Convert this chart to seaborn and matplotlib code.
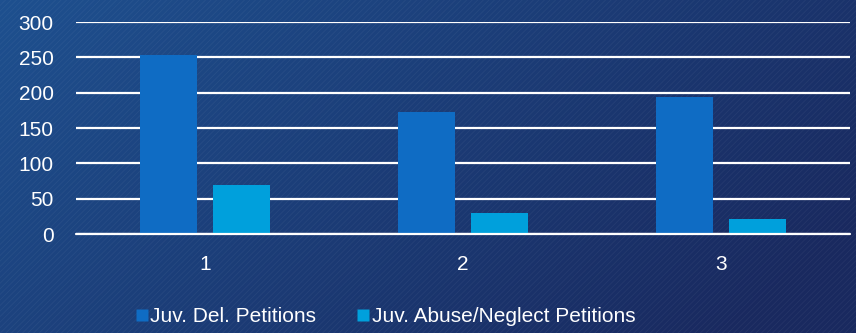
import numpy as np
import pandas as pd
import matplotlib
matplotlib.use("Agg")
import matplotlib.pyplot as plt
import seaborn as sns
from matplotlib.patches import Rectangle
from matplotlib.lines import Line2D

categories = ["1", "2", "3"]
series_names = ["Juv. Del. Petitions", "Juv. Abuse/Neglect Petitions"]
del_values = [254, 173, 194]
abuse_values = [69, 30, 21]
y_ticks = [0, 50, 100, 150, 200, 250, 300]
colors = ["#0f6cc4", "#00a0dc"]

df = pd.DataFrame({
    "cat": categories * 2,
    "series": [series_names[0]] * 3 + [series_names[1]] * 3,
    "value": del_values + abuse_values,
})

sns.set_style("white")
plt.rcParams["font.family"] = ["Liberation Sans", "DejaVu Sans"]
plt.rcParams["hatch.linewidth"] = 0.6

W, H = 856, 333
fig = plt.figure(figsize=(W / 100, H / 100), dpi=100)

# background gradient
bg = fig.add_axes([0, 0, 1, 1], zorder=-10)
xx, yy = np.meshgrid(np.linspace(0, 1, 200), np.linspace(0, 1, 100))
t = np.clip(0.75 * xx + 0.35 * yy, 0, 1)
c0 = np.array([0x1e, 0x50, 0x8f]) / 255
c1 = np.array([0x19, 0x29, 0x5f]) / 255
img = c0[None, None, :] * (1 - t[..., None]) + c1[None, None, :] * t[..., None]
bg.imshow(img, aspect="auto", extent=[0, 1, 0, 1], origin="upper")
bg.add_patch(Rectangle((0, 0), 1, 1, facecolor="none", edgecolor=(1, 1, 1, 0.05),
                       hatch="//////", lw=0, transform=bg.transAxes))
bg.set_axis_off()

ax = fig.add_axes([76 / W, 1 - 234 / H, (850 - 76) / W, (234 - 22) / H])
ax.patch.set_alpha(0)
sns.barplot(data=df, x="cat", y="value", hue="series", palette=colors,
            width=0.57, gap=0.224, ax=ax, legend=False, saturation=1,
            edgecolor="none", zorder=3)
ax.set_ylim(0, 300)
ax.set_xlim(-0.5, 2.5)
ax.set_yticks(y_ticks)
ax.set_yticklabels([str(v) for v in y_ticks])
ax.yaxis.grid(True, color="white", lw=1.6, zorder=1)
ax.set_axisbelow(True)
for s in ax.spines.values():
    s.set_visible(False)
ax.axhline(0, color="white", lw=1.6, zorder=4, clip_on=False)
ax.tick_params(axis="both", length=0, colors="white", labelsize=15)
ax.tick_params(axis="y", pad=16)
ax.tick_params(axis="x", pad=15)
ax.set_xlabel("")
ax.set_ylabel("")

handles = [Line2D([], [], marker="s", linestyle="none", markersize=8,
                  markerfacecolor=c, markeredgecolor="none") for c in colors]
leg = fig.legend(handles, series_names, loc="center", bbox_to_anchor=(386 / W, 1 - 317 / H),
                 ncol=2, frameon=False, handlelength=0.5,
                 prop={"family": ["Liberation Sans", "DejaVu Sans"], "size": 15},
                 handletextpad=0.15, columnspacing=2.0)
for txt in leg.get_texts():
    txt.set_color("white")

fig.savefig("out.png", dpi=100)
